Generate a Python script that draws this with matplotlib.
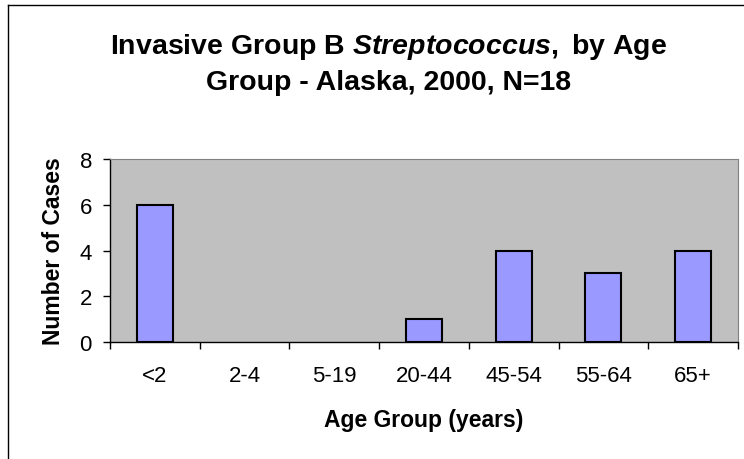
import numpy as np
import matplotlib.pyplot as plt
from matplotlib.lines import Line2D

plt.rcParams['font.family'] = ['Liberation Sans', 'DejaVu Sans']
plt.rcParams['mathtext.fontset'] = 'custom'
plt.rcParams['mathtext.it'] = 'Liberation Sans:bold:italic'
plt.rcParams['mathtext.rm'] = 'Liberation Sans:bold'
plt.rcParams['mathtext.bf'] = 'Liberation Sans:bold'

# Data
age_groups = ['<2', '2-4', '5-19', '20-44', '45-54', '55-64', '65+']
cases = [6, 0, 0, 1, 4, 3, 4]
y_ticks = [0, 2, 4, 6, 8]

fig = plt.figure(figsize=(7.44, 4.60), dpi=100)
ax = fig.add_axes([110/744, 1 - 343/460, 628/744, 183/460])
ax.set_facecolor('#C0C0C0')

x = np.arange(len(age_groups))
edge_w = [1.5 if c > 0 else 0 for c in cases]
ax.bar(x, cases, width=0.4, color='#9999FF', edgecolor='black', linewidth=edge_w, zorder=3)

ax.set_xlim(-0.5, len(age_groups) - 0.5)
ax.set_ylim(0, 8)
ax.set_yticks(y_ticks)
ax.set_xticks(x)
ax.set_xticklabels(age_groups, fontsize=16)
ax.set_xticks(np.arange(len(age_groups) + 1) - 0.5, minor=True)
ax.tick_params(axis='x', which='major', length=0, pad=16.5)
ax.tick_params(axis='x', which='minor', length=5, width=1, direction='out')
ax.tick_params(axis='y', length=5, width=1, direction='out', labelsize=16, pad=8)

for side in ['top', 'right']:
    ax.spines[side].set_color('#808080')
    ax.spines[side].set_linewidth(0.8)
for side in ['left', 'bottom']:
    ax.spines[side].set_color('black')
    ax.spines[side].set_linewidth(1)

ax.set_xlabel('Age Group (years)', fontsize=16.5, fontweight='bold')
ax.xaxis.set_label_coords(0.5, (343 - 420.5) / 183, transform=ax.transAxes)
ax.xaxis.label.set_verticalalignment('center')
ax.set_ylabel('Number of Cases', fontsize=16.5, fontweight='bold')
ax.yaxis.set_label_coords((54 - 110) / 628, 0.5)
ax.yaxis.label.set_verticalalignment('center')

fig.text(389/744, 1 - 54/460, r'Invasive Group B $\mathit{Streptococcus,}$ by Age',
         ha='center', va='baseline', fontsize=20.5, fontweight='bold')
fig.text(389/744, 1 - 90/460, 'Group - Alaska, 2000, N=18',
         ha='center', va='baseline', fontsize=20.5, fontweight='bold')

# outer chart border (right/bottom edges fall outside the picture)
fig.add_artist(Line2D([7.5/744, 7.5/744], [0, 1 - 5.5/460], color='black', linewidth=1,
                      transform=fig.transFigure))
fig.add_artist(Line2D([7.5/744, 1], [1 - 5.5/460, 1 - 5.5/460], color='black', linewidth=1,
                      transform=fig.transFigure))

plt.savefig('out.png', dpi=100)
